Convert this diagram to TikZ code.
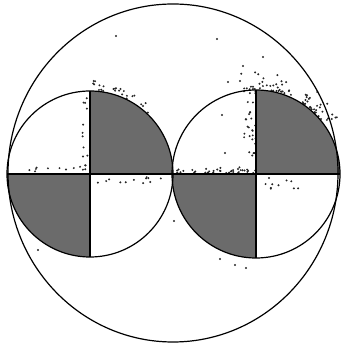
\documentclass[tikz,border=0pt]{standalone}
\usetikzlibrary{calc}
\begin{document}
\begin{tikzpicture}[
  x=1pt, y=1pt,
  fmsphere/.style = {line width=1.2pt, draw=black},
  fmquad/.style = {fill=black!58, draw=none},
  fmline/.style = {line width=1.2pt, draw=black},
  fmdot/.style = {fill=black!85, draw=none}
]
  \useasboundingbox (0,0) rectangle (342,347);
  \pgfmathsetseed{11}
  % scattered points
  \foreach \i in {1,...,70} {
    \pgfmathsetmacro{\ang}{35+65*rnd}
    \pgfmathsetmacro{\rr}{85+18*rnd^2}
    \fill[fmdot] ($(256,173)+(\ang:\rr)$) circle (1.1);
  }
  \foreach \i in {1,...,35} {
    \fill[fmdot] (176+78*rnd, 174+6*rnd^2) circle (1.1);
  }
  \foreach \i in {1,...,30} {
    \fill[fmdot] (243+13*rnd^0.5, 176+80*rnd) circle (1.1);
  }
  \foreach \i in {1,...,25} {
    \pgfmathsetmacro{\ang}{45+50*rnd}
    \pgfmathsetmacro{\rr}{84+9*rnd}
    \fill[fmdot] ($(90,173)+(\ang:\rr)$) circle (1.1);
  }
  \foreach \i in {1,...,14} {
    \fill[fmdot] (80+10*rnd, 180+70*rnd) circle (1.1);
  }
  \foreach \i in {1,...,10} {
    \fill[fmdot] (28+60*rnd, 175+5*rnd) circle (1.1);
  }
  \foreach \i in {1,...,12} {
    \fill[fmdot] (96+70*rnd, 163+7*rnd) circle (1.1);
  }
  \foreach \i in {1,...,10} {
    \fill[fmdot] (264+35*rnd, 155+15*rnd) circle (1.1);
  }
  \foreach \p in {(116,311),(217,308),(263,290),(243,281),(228,265),(240,266),
                  (38,97),(174,126),(220,88),(235,82),(246,79),(225,194),(222,232)}
    \fill[fmdot] \p circle (1.1);
  % shaded quadrants
  \fill[fmquad] (90,173) -- ++(83,0) arc[start angle=0, end angle=90, radius=83] -- cycle;
  \fill[fmquad] (90,173) -- ++(-83,0) arc[start angle=180, end angle=270, radius=83] -- cycle;
  \fill[fmquad] (256,173) -- ++(84,0) arc[start angle=0, end angle=90, radius=84] -- cycle;
  \fill[fmquad] (256,173) -- ++(-84,0) arc[start angle=180, end angle=270, radius=84] -- cycle;
  % circles and nodal planes
  \draw[fmsphere] (173,174) ellipse (165 and 169);
  \draw[fmsphere] (90,173) circle (83);
  \draw[fmsphere] (256,173) circle (84);
  \draw[fmline] (7,173) -- (340,173);
  \draw[fmline] (90,90) -- (90,256);
  \draw[fmline] (256,89) -- (256,257);
\end{tikzpicture}
\end{document}
